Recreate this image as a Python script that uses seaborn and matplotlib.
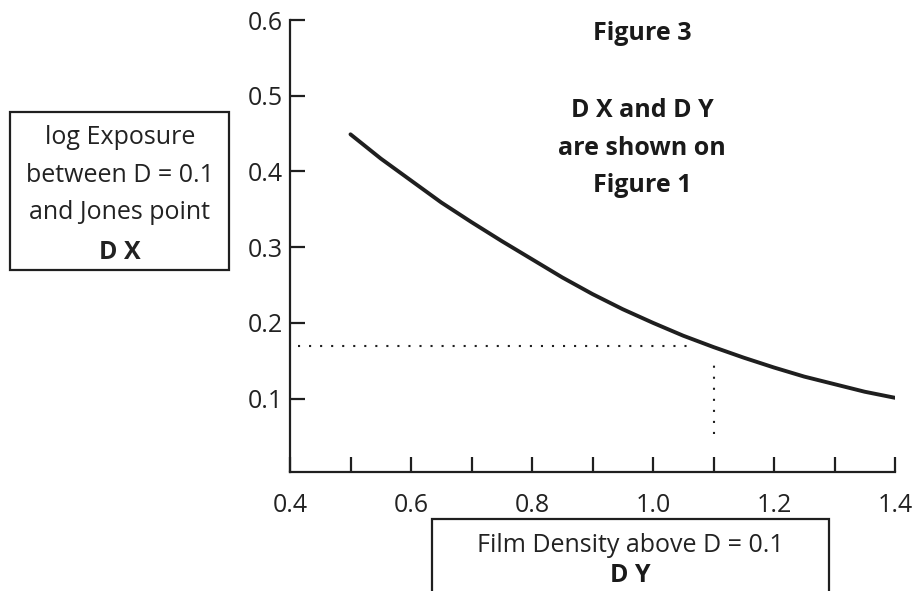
import numpy as np
import pandas as pd
import matplotlib
matplotlib.use("Agg")
import matplotlib.pyplot as plt
from matplotlib.patches import Rectangle
import seaborn as sns

# Data
density = [0.5, 0.55, 0.6, 0.65, 0.7, 0.75, 0.8, 0.85, 0.9, 0.95,
           1.0, 1.05, 1.1, 1.15, 1.2, 1.25, 1.3, 1.35, 1.4]
log_exposure = [0.449, 0.417, 0.388, 0.359, 0.333, 0.308, 0.284, 0.260, 0.238, 0.218,
                0.200, 0.183, 0.168, 0.154, 0.141, 0.129, 0.119, 0.109, 0.101]

guide_y = 0.17          # D X
guide_x = 1.1           # D Y
guide_h_span = [0.413, 1.07]
guide_v_span = [0.053, 0.153]

x_major = [0.4, 0.6, 0.8, 1.0, 1.2, 1.4]
x_minor = [0.5, 0.7, 0.9, 1.1, 1.3]
y_ticks = [0.1, 0.2, 0.3, 0.4, 0.5, 0.6]

df = pd.DataFrame({"density": density, "logE": log_exposure})

# Style
sns.set_style("white")
plt.rcParams["font.family"] = ["Open Sans", "DejaVu Sans"]
ink = "#1f1f1f"

W, H = 914, 591
fig = plt.figure(figsize=(W / 100, H / 100), dpi=100)
ax = fig.add_axes([290 / W, (H - 472) / H, 605 / W, 452 / H])

sns.lineplot(data=df, x="density", y="logE", ax=ax, color=ink, lw=2.8,
             estimator=None, sort=True)

ax.hlines(guide_y, guide_h_span[0], guide_h_span[1], colors=ink, lw=1.5,
          linestyles=(0, (1, 4.3)))
ax.vlines(guide_x, guide_v_span[0], guide_v_span[1], colors=ink, lw=1.5,
          linestyles=(0, (1, 4.3)))

ax.set_xlim(0.4, 1.4)
ax.set_ylim(0.003, 0.6)
ax.set_xticks(x_major)
ax.set_xticks(x_minor, minor=True)
ax.set_xticklabels([f"{v:.1f}" for v in x_major])
ax.set_yticks(y_ticks)
ax.set_yticklabels([f"{v:.1f}" for v in y_ticks])
ax.set_xlabel("")
ax.set_ylabel("")

sns.despine(ax=ax)
for s in ["left", "bottom"]:
    ax.spines[s].set_color(ink)
    ax.spines[s].set_linewidth(1.6)

ax.tick_params(axis="both", which="both", direction="in", length=11,
               width=1.6, color=ink, labelcolor="#222222", labelsize=18,
               bottom=True, left=True)
ax.tick_params(axis="x", which="both", pad=15)
ax.tick_params(axis="y", pad=5)


def px(x, y):
    return x / W, 1 - y / H


# right-hand notes
for txt, yb in [("Figure 3", 40), ("D X and D Y", 117),
                ("are shown on", 155), ("Figure 1", 192)]:
    fig.text(*px(642, yb), txt, ha="center", va="baseline",
             fontsize=18, fontweight="bold", color="#1a1a1a")

# y-axis label box
fig.patches.append(Rectangle(px(10, 270), 219 / W, 158 / H, transform=fig.transFigure,
                             fill=False, lw=1.6, ec=ink))
for txt, yb, fw in [("log Exposure", 144, "normal"), ("between D = 0.1", 182, "normal"),
                    ("and Jones point", 219, "normal"), ("D X", 259, "bold")]:
    fig.text(*px(120, yb), txt, ha="center", va="baseline",
             fontsize=18, fontweight=fw, color="#222222")

# x-axis label box
fig.patches.append(Rectangle(px(432, 620), 397 / W, 101 / H, transform=fig.transFigure,
                             fill=False, lw=1.6, ec=ink))
fig.text(*px(630, 552), "Film Density above D = 0.1", ha="center", va="baseline",
         fontsize=18, color="#222222")
fig.text(*px(630, 582), "D Y", ha="center", va="baseline",
         fontsize=18, fontweight="bold", color="#1a1a1a")

fig.savefig("out.png", dpi=100)
